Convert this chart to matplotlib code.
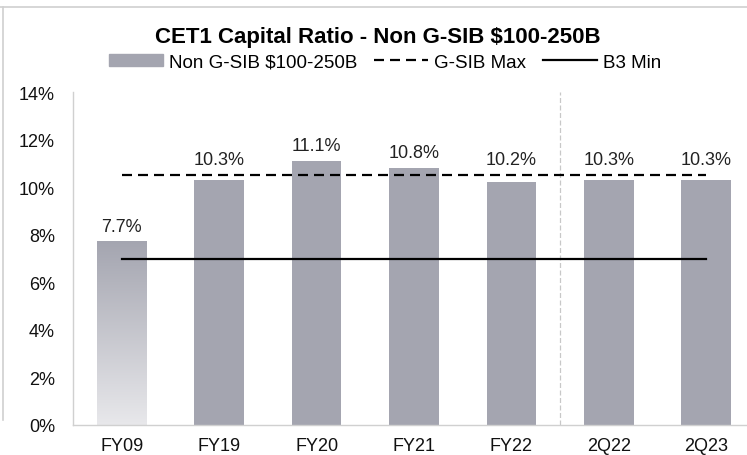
import numpy as np
import matplotlib
matplotlib.use("Agg")
import matplotlib.pyplot as plt
from matplotlib.colors import LinearSegmentedColormap
from matplotlib.lines import Line2D
from matplotlib.patches import Patch

plt.rcParams['font.family'] = ['Liberation Sans', 'DejaVu Sans']

# CET1 ratios (%) for non G-SIB banks with $100-250B assets
periods = ['FY09', 'FY19', 'FY20', 'FY21', 'FY22', '2Q22', '2Q23']
cet1 = [7.7, 10.3, 11.1, 10.8, 10.2, 10.3, 10.3]
gsib_max = 10.5
b3_min = 7.0
yticks = [0, 2, 4, 6, 8, 10, 12, 14]

bar_color = '#a4a5b0'
bar_w = 0.51
dash = (0, (4.5, 2.7))

fig = plt.figure(figsize=(7.47, 4.56), dpi=100)
ax = fig.add_axes([73 / 747, 30 / 456, 682 / 747, 333 / 456])

x = np.arange(len(periods))
ax.bar(x[1:], cet1[1:], width=bar_w, color=bar_color, zorder=2)

# first bar fades out towards the baseline
fade = LinearSegmentedColormap.from_list('fade', ['#e8e8eb', bar_color])
grad = np.linspace(0, 1, 256).reshape(-1, 1)
ax.imshow(grad, cmap=fade, origin='lower', aspect='auto', zorder=2,
          extent=[x[0] - bar_w / 2, x[0] + bar_w / 2, 0, cet1[0]])

# labels sit above the G-SIB line when the bar is close to it
for xi, v in zip(x, cet1):
    y_lab = max(v, gsib_max) if v > b3_min + 2 else v
    ax.annotate(f'{v:.1f}%', (xi, y_lab), xytext=(0, 5), textcoords='offset points',
                ha='center', va='bottom', fontsize=13, color='#222222')

ax.plot([x[0], x[-1]], [gsib_max, gsib_max], color='black', lw=1.6,
        ls=dash, zorder=3)
ax.plot([x[0], x[-1]], [b3_min, b3_min], color='black', lw=1.6, zorder=3)

# split between annual and quarterly figures
ax.axvline(4.5, color='#c8c8c8', lw=0.9, ls=(0, (4, 2)), zorder=1)

ax.set_xlim(-0.5, len(periods) - 0.5)
ax.set_ylim(0, 14)
ax.set_yticks(yticks)
ax.set_yticklabels([f'{t}%' for t in yticks])
ax.set_xticks(x)
ax.set_xticklabels(periods)
ax.tick_params(length=0, labelsize=13, colors='#111111')
ax.tick_params(axis='y', pad=13)
ax.tick_params(axis='x', pad=9)
for side in ['top', 'right']:
    ax.spines[side].set_visible(False)
for side in ['left', 'bottom']:
    ax.spines[side].set_color('#d0d0d0')
    ax.spines[side].set_linewidth(1.0)

fig.text(378 / 747, 1 - 38 / 456, 'CET1 Capital Ratio - Non G-SIB $100-250B',
         ha='center', va='center', fontsize=16, fontweight='bold')

handles = [Patch(color=bar_color),
           Line2D([], [], color='black', lw=1.6, ls=dash),
           Line2D([], [], color='black', lw=1.6)]
fig.legend(handles, ['Non G-SIB $100-250B', 'G-SIB Max', 'B3 Min'],
           loc='center', bbox_to_anchor=(385 / 747, 1 - 63 / 456), ncol=3,
           frameon=False, fontsize=13.5, handlelength=2.9, handleheight=0.55,
           handletextpad=0.3, columnspacing=0.9, borderpad=0, borderaxespad=0)

# slide frame lines
fig.add_artist(Line2D([0, 1], [1 - 8 / 456, 1 - 8 / 456], color='#d0d0d0', lw=1.2))
fig.add_artist(Line2D([3 / 747, 3 / 747], [1 - 8 / 456, 1 - 421 / 456],
                      color='#d0d0d0', lw=1.2))

fig.savefig('out.png', dpi=100)
